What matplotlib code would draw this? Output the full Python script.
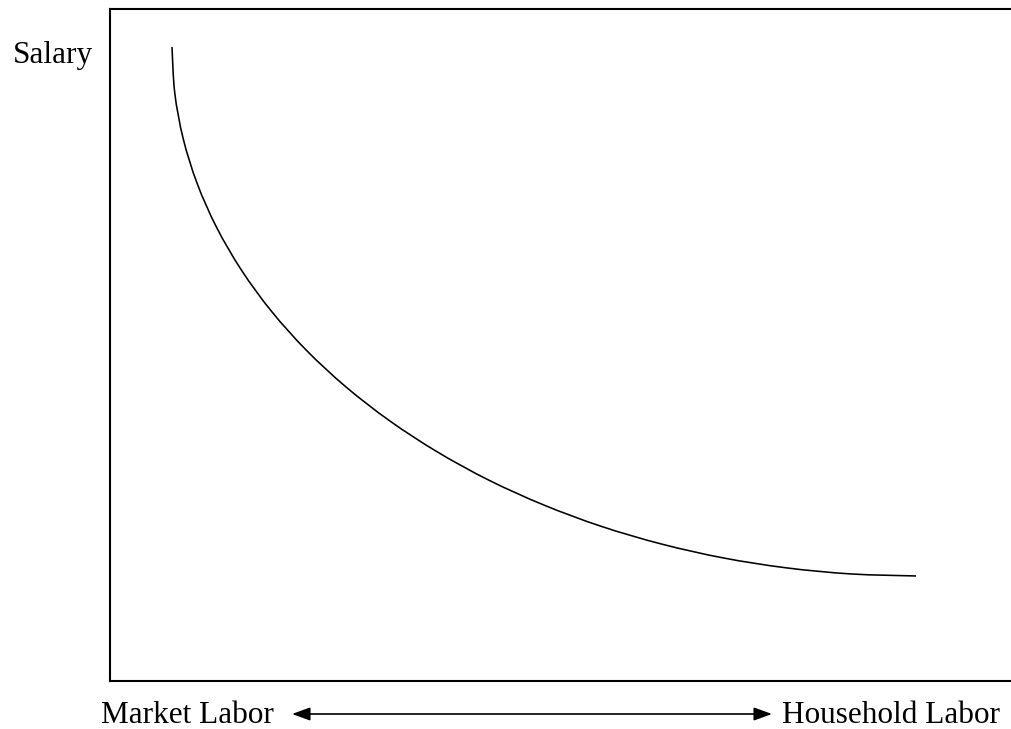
import matplotlib
matplotlib.use("Agg")
import matplotlib.pyplot as plt
from matplotlib.path import Path
from matplotlib.patches import PathPatch

# Curve (x: 0-100 across the box, y: 0-100 bottom to top)
labor_x = [6.88, 7.19, 8.13, 9.69, 11.86, 14.62, 17.94, 21.81, 26.20, 31.07,
           36.38, 42.09, 48.17, 54.56, 61.22, 68.09, 75.12, 82.26, 89.46]
salary_y = [94.35, 87.49, 80.68, 73.98, 67.43, 61.08, 54.99, 49.20, 43.75, 38.69,
            34.05, 29.86, 26.18, 23.00, 20.38, 18.31, 16.83, 15.93, 15.63]

y_label = "Salary"
left_label = "Market Labor"
right_label = "Household Labor"

W, H = 1011, 729
fig = plt.figure(figsize=(W / 100, H / 100), dpi=100)
ax = fig.add_axes([110 / W, 48 / H, 901 / W, 672 / H])
ax.set_xlim(0, 100)
ax.set_ylim(0, 100)

# smooth curve through the read points (Catmull-Rom as cubic Bezier segments)
pts = list(zip(labor_x, salary_y))
verts = [pts[0]]
codes = [Path.MOVETO]
n = len(pts)
for i in range(n - 1):
    p0 = pts[i - 1] if i > 0 else pts[i]
    p1 = pts[i]
    p2 = pts[i + 1]
    p3 = pts[i + 2] if i + 2 < n else pts[i + 1]
    c1 = (p1[0] + (p2[0] - p0[0]) / 6, p1[1] + (p2[1] - p0[1]) / 6)
    c2 = (p2[0] - (p3[0] - p1[0]) / 6, p2[1] - (p3[1] - p1[1]) / 6)
    verts += [c1, c2, p2]
    codes += [Path.CURVE4] * 3
ax.add_patch(PathPatch(Path(verts, codes), facecolor="none", edgecolor="black",
                       lw=1.15, capstyle="butt"))

ax.set_xticks([])
ax.set_yticks([])
for s in ["left", "top", "bottom"]:
    ax.spines[s].set_linewidth(1.5)
    ax.spines[s].set_color("black")
ax.spines["right"].set_visible(False)

font = dict(family="Liberation Serif", size=22.5, color="black")
fig.text(13 / W, 1 - 62.5 / H, y_label, ha="left", va="baseline", **font)
fig.text(101 / W, 1 - 723 / H, left_label, ha="left", va="baseline", **font)
fig.text(782 / W, 1 - 723 / H, right_label, ha="left", va="baseline", **font)

ax.annotate("", xy=(292, H - 714), xytext=(772, H - 714),
            xycoords="figure pixels", textcoords="figure pixels",
            arrowprops=dict(arrowstyle="<|-|>,head_length=0.55,head_width=0.2",
                            mutation_scale=20, lw=1.2, color="black",
                            shrinkA=0, shrinkB=0))

fig.savefig("out.png", dpi=100)
